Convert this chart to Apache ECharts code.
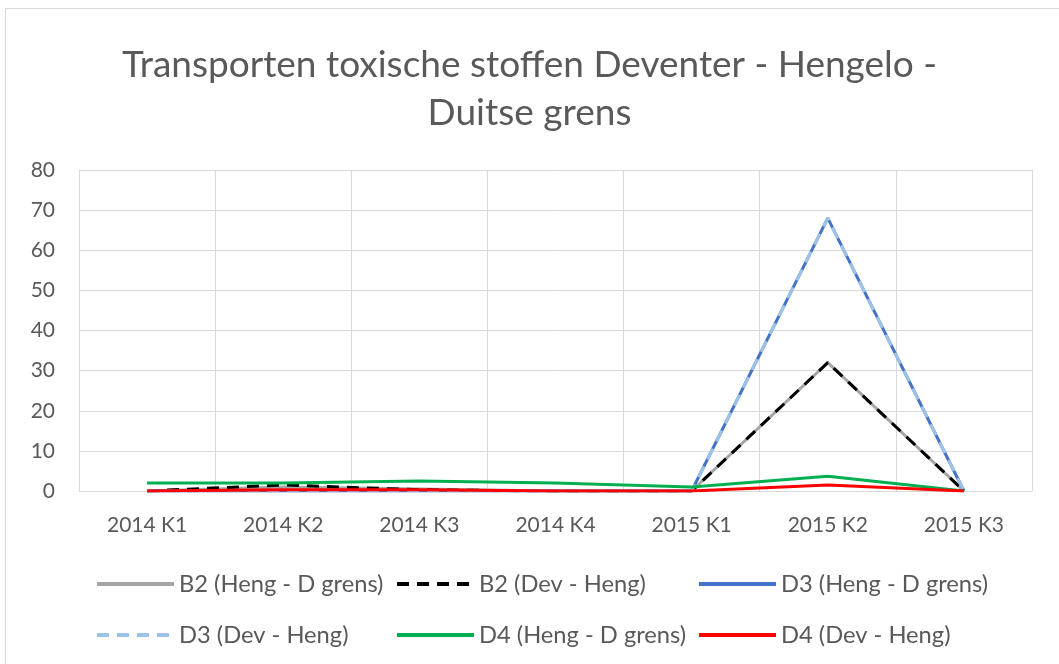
<!DOCTYPE html>
<html>
<head>
<meta charset="utf-8">
<script src="https://cdn.jsdelivr.net/npm/echarts@6/dist/echarts.min.js"></script>
<style>
  html, body { margin: 0; padding: 0; background: #fff; overflow: hidden; }
  #chart { width: 1059px; height: 664px; }
</style>
</head>
<body>
<div id="chart"></div>
<script>
// quarters on the x axis
const quarters = ['2014 K1', '2014 K2', '2014 K3', '2014 K4', '2015 K1', '2015 K2', '2015 K3']

// series values
const b2Heng = [0, 1, 0.5, 0, 0, 32, 0]
const b2Dev = [0, 1.5, 0.3, 0, 0, 32, 0]
const d3Heng = [0, 0, 0, 0, 0, 68, 0]
const d3Dev = [0, 0, 0, 0, 0, 68, 0]
const d4Heng = [2, 2, 2.5, 2, 1, 3.7, 0]
const d4Dev = [0, 0.3, 0.3, 0, 0, 1.5, 0]

const yTicks = { min: 0, max: 80, interval: 10 }

const txt = '#595959'
const grid = '#d9d9d9'
const font = 'Lato, "Open Sans", sans-serif'

const chart = echarts.init(document.getElementById('chart'))

const line = (name, data, color, dash) => ({
  name,
  type: 'line',
  data,
  symbol: 'none',
  animation: false,
  lineStyle: { width: 3, color, type: dash ? [12, 8] : 'solid', cap: 'butt' },
  itemStyle: { color },
})

const legendItem = (name, left, top) => ({
  data: [name],
  left,
  top,
  itemWidth: 77,
  itemHeight: 14,
  itemGap: 0,
  itemStyle: { opacity: 0 },
  lineStyle: { width: 4 },
  textStyle: { color: txt, fontSize: 23.7, fontFamily: font },
})

chart.setOption({
  backgroundColor: '#fff',
  title: {
    text: 'Transporten toxische stoffen Deventer - Hengelo -\nDuitse grens',
    left: 'center',
    top: 36,
    textStyle: { color: txt, fontSize: 37, fontWeight: 'normal', fontFamily: font, lineHeight: 48 },
  },
  graphic: [{
    type: 'rect',
    shape: { x: 5.5, y: 8.5, width: 1100, height: 700 },
    style: { fill: 'none', stroke: grid, lineWidth: 1 },
    silent: true,
  }],
  grid: { left: 79, right: 27, top: 170, bottom: 173 },
  xAxis: {
    type: 'category',
    data: quarters,
    boundaryGap: true,
    axisLine: { lineStyle: { color: grid, width: 1 } },
    axisTick: { show: false },
    axisLabel: { color: txt, fontSize: 21, fontFamily: font, margin: 24 },
    splitLine: { show: true, interval: 0, lineStyle: { color: grid, width: 1 } },
  },
  yAxis: {
    type: 'value',
    ...yTicks,
    axisLine: { show: false },
    axisTick: { show: false },
    axisLabel: { color: txt, fontSize: 21, fontFamily: font, margin: 24 },
    splitLine: { lineStyle: { color: grid, width: 1 } },
  },
  legend: [
    legendItem('B2 (Heng - D grens)', 90, 567),
    legendItem('B2 (Dev - Heng)', 390, 567),
    legendItem('D3 (Heng - D grens)', 692, 567),
    legendItem('D3 (Dev - Heng)', 90, 618),
    legendItem('D4 (Heng - D grens)', 390, 618),
    legendItem('D4 (Dev - Heng)', 692, 618),
  ],
  series: [
    line('B2 (Heng - D grens)', b2Heng, '#a5a5a5', false),
    line('B2 (Dev - Heng)', b2Dev, '#000000', true),
    line('D3 (Heng - D grens)', d3Heng, '#4472c4', false),
    line('D3 (Dev - Heng)', d3Dev, '#9dc3e6', true),
    line('D4 (Heng - D grens)', d4Heng, '#00b050', false),
    line('D4 (Dev - Heng)', d4Dev, '#ff0000', false),
  ],
})
</script>
</body>
</html>
